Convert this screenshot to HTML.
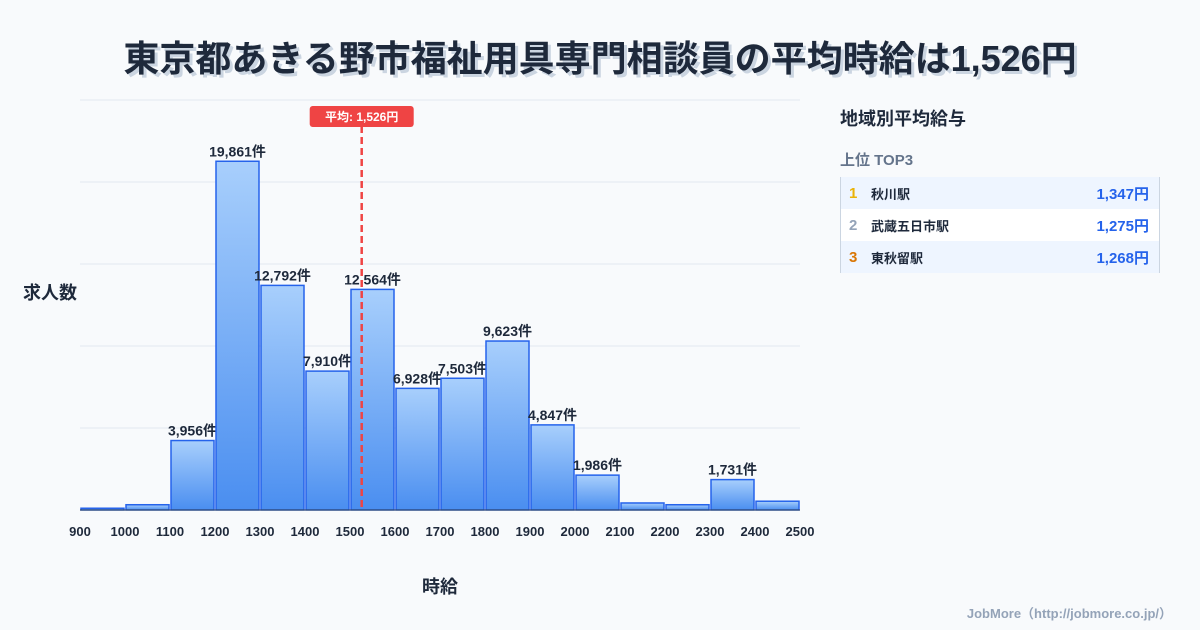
<!DOCTYPE html>
<html><head><meta charset="utf-8"><style>
body{margin:0;width:1200px;height:630px;background:#f8fafc;font-family:"Liberation Sans","Noto Sans CJK JP",sans-serif;overflow:hidden;position:relative}
.title{position:absolute;left:0;width:1200px;top:30px;text-align:center;font-size:36px;font-weight:bold;color:#1e293b;text-shadow:3px 3px 0 #cbd5e1}
.panel{position:absolute;left:840px;top:100px;width:320px}
.ph{font-size:18px;font-weight:bold;color:#1e293b;margin-top:5px}
.sub{font-size:15px;font-weight:bold;color:#64748b;margin-top:18px}
.tbl{margin-top:7px;border-left:1px solid #cbd5e1;border-right:1px solid #cbd5e1}
.row{height:32px;display:flex;align-items:center;font-size:13px;font-weight:bold;color:#1e293b;padding:0 10px 0 8px}
.row:nth-child(odd){background:#eef5ff}.row:nth-child(even){background:#fff}
.rk{width:22px;font-size:15px}.nm{flex:1}.val{color:#2563eb;font-size:15px}
.foot{position:absolute;right:28px;top:603px;font-size:13px;font-weight:bold;color:#94a3b8}
</style></head><body>
<div class="title">東京都あきる野市福祉用具専門相談員の平均時給は1,526円</div>
<svg id="chart" width="1200" height="630" style="position:absolute;left:0;top:0">
<defs><linearGradient id="g" x1="0" y1="0" x2="0" y2="1"><stop offset="0" stop-color="#a8cffc"/><stop offset="1" stop-color="#4a8ef0"/></linearGradient></defs>
<text x="50" y="299" text-anchor="middle" font-size="18" font-weight="bold" fill="#1e293b">求人数</text>
<text x="440" y="593" text-anchor="middle" font-size="18" font-weight="bold" fill="#1e293b">時給</text>
</svg>
<div class="panel">
<div class="ph">地域別平均給与</div>
<div class="sub">上位 TOP3</div>
<div class="tbl">
<div class="row"><span class="rk" style="color:#eab308">1</span><span class="nm">秋川駅</span><span class="val">1,347円</span></div>
<div class="row"><span class="rk" style="color:#94a3b8">2</span><span class="nm">武蔵五日市駅</span><span class="val">1,275円</span></div>
<div class="row"><span class="rk" style="color:#d97706">3</span><span class="nm">東秋留駅</span><span class="val">1,268円</span></div>
</div></div>
<div class="foot">JobMore（http://jobmore.co.jp/）</div>
<script>
const binStarts=[900,1000,1100,1200,1300,1400,1500,1600,1700,1800,1900,2000,2100,2200,2300,2400];
const counts=[100,300,3956,19861,12792,7910,12564,6928,7503,9623,4847,1986,400,300,1731,500];
const labels=["","","3,956件","19,861件","12,792件","7,910件","12,564件","6,928件","7,503件","9,623件","4,847件","1,986件","","","1,731件",""];
const xTicks=[900,1000,1100,1200,1300,1400,1500,1600,1700,1800,1900,2000,2100,2200,2300,2400,2500];
const meanValue=1526;
const meanLabel="平均: 1,526円";
const NS="http://www.w3.org/2000/svg";
const svg=document.getElementById('chart');
const X0=80,X1=800,Y0=510,Y1=100,YMAX=23350;
const x=v=>X0+(v-900)/(2500-900)*(X1-X0);
const y=v=>Y0-v/YMAX*(Y0-Y1);
function mk(t,a){const e=document.createElementNS(NS,t);for(const k in a)e.setAttribute(k,a[k]);svg.appendChild(e);return e;}
for(let i=0;i<=5;i++){const gy=Y0-(Y0-Y1)*i/5;
const l=mk('line',{x1:X0,x2:X1,y1:gy,y2:gy,stroke:'#e2e8f0','stroke-width':1});

}
binStarts.forEach((b,i)=>{const x0=x(b)+1,x1=x(b+100)-1,yt=y(counts[i]);
const r=mk('rect',{x:x0,y:yt,width:x1-x0,height:Y0-yt,fill:'url(#g)',stroke:'#2563eb','stroke-width':1.5});


if(labels[i]){const t=mk('text',{x:(x0+x1)/2,y:yt-5,'text-anchor':'middle','font-size':14,'font-weight':'bold',fill:'#1e293b'});t.textContent=labels[i];

}});
mk('line',{x1:X0,x2:X1,y1:Y0,y2:Y0,stroke:'#334155','stroke-width':1});
xTicks.forEach(v=>{const t=mk('text',{x:x(v),y:536,'text-anchor':'middle','font-size':13,'font-weight':'bold',fill:'#1e293b'});t.textContent=v;

});
const mx=x(meanValue);
const ml=mk('line',{x1:mx,x2:mx,y1:126,y2:Y0,stroke:'#ef4444','stroke-width':2.5,'stroke-dasharray':'7,4'});


const mb=mk('rect',{x:mx-52,y:106,width:104,height:21,rx:3,fill:'#ef4444'});


const mt=mk('text',{x:mx,y:121,'text-anchor':'middle','font-size':12,'font-weight':'bold',fill:'#fff'});mt.textContent=meanLabel;


</script>
</body></html>
